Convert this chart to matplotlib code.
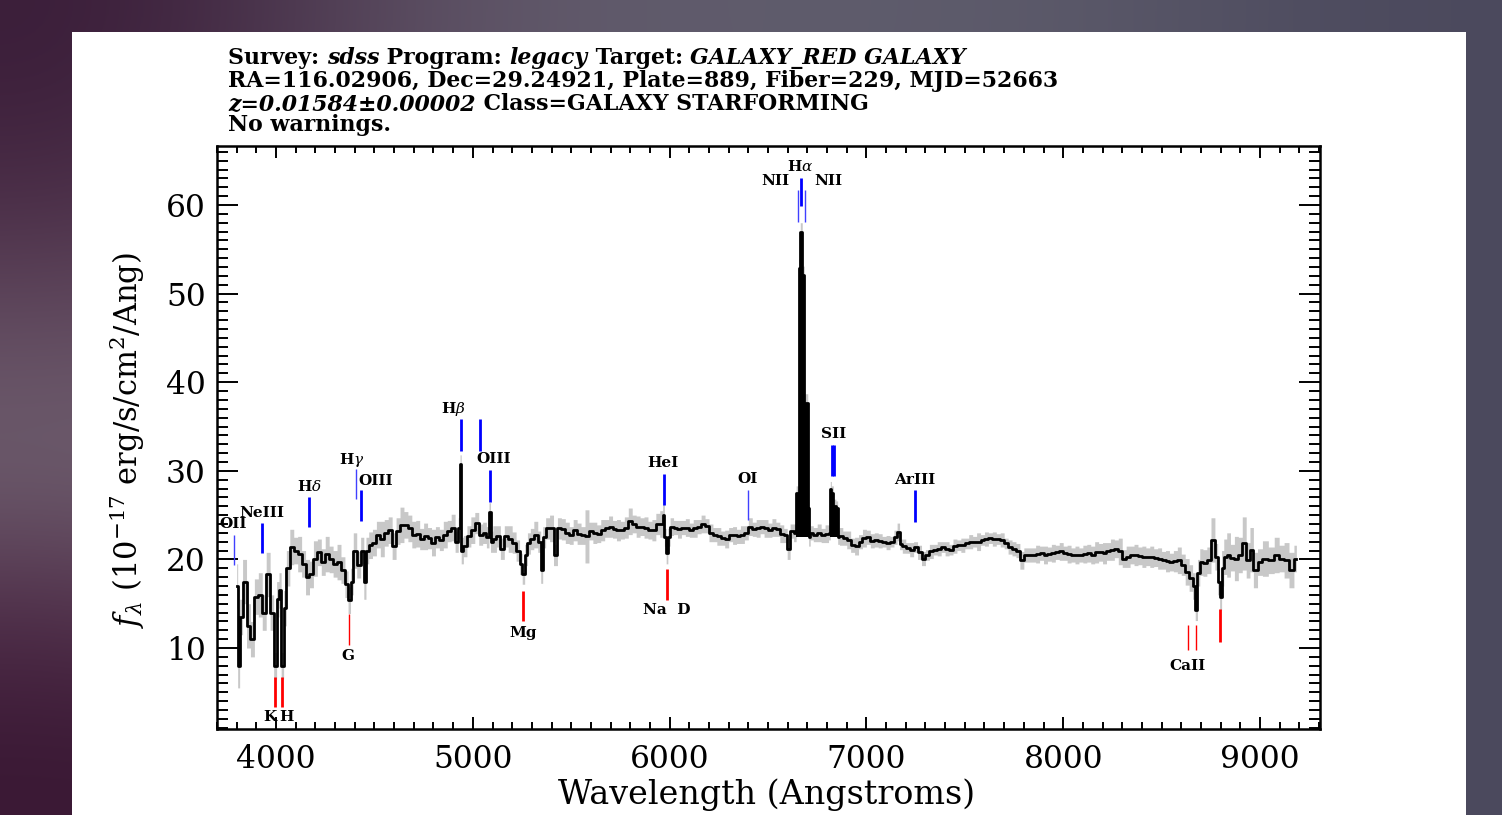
#sdss spectrum plot, rebuilt with matplotlib
import matplotlib
matplotlib.use('Agg')
import matplotlib.pyplot as plt
import numpy as np
from matplotlib.patches import Rectangle
from matplotlib.ticker import MultipleLocator

z = 0.01584

wave = [3800, 3810, 3820, 3840, 3860, 3880, 3900, 3920, 3940, 3960,
        3980, 3996, 4010, 4020, 4032, 4045, 4060, 4080, 4100, 4120,
        4140, 4160, 4180, 4200, 4220, 4240, 4260, 4280, 4300, 4320,
        4340, 4360, 4372, 4385, 4400, 4420, 4440, 4452, 4462, 4480,
        4500, 4520, 4540, 4560, 4580, 4600, 4620, 4640, 4660, 4680,
        4700, 4720, 4740, 4760, 4780, 4800, 4820, 4840, 4860, 4880,
        4900, 4920, 4932, 4938, 4944, 4960, 4980, 5000, 5020, 5040,
        5060, 5078, 5086, 5094, 5110, 5130, 5150, 5170, 5190, 5210,
        5230, 5245, 5257, 5270, 5285, 5300, 5320, 5340, 5350, 5360,
        5380, 5400, 5420, 5440, 5460, 5480, 5500, 5520, 5540, 5560,
        5580, 5600, 5620, 5640, 5660, 5680, 5700, 5720, 5740, 5760,
        5780, 5800, 5820, 5840, 5860, 5880, 5900, 5920, 5940, 5960,
        5969, 5978, 5987, 5995, 6010, 6030, 6050, 6070, 6090, 6110,
        6130, 6150, 6170, 6190, 6210, 6230, 6250, 6270, 6290, 6310,
        6330, 6350, 6370, 6390, 6410, 6430, 6450, 6470, 6490, 6510,
        6530, 6550, 6570, 6590, 6605, 6620, 6640, 6646, 6653, 6657,
        6662, 6666, 6672, 6676, 6682, 6686, 6700, 6704, 6709, 6720,
        6740, 6760, 6780, 6800, 6815, 6818, 6826, 6838, 6852, 6856,
        6870, 6890, 6910, 6930, 6950, 6970, 6990, 7010, 7030, 7050,
        7070, 7090, 7110, 7130, 7150, 7162, 7175, 7190, 7210, 7230,
        7250, 7270, 7290, 7310, 7330, 7350, 7370, 7390, 7410, 7430,
        7450, 7470, 7490, 7510, 7530, 7550, 7570, 7590, 7610, 7630,
        7650, 7670, 7690, 7710, 7730, 7750, 7770, 7790, 7810, 7830,
        7850, 7870, 7890, 7910, 7930, 7950, 7970, 7990, 8010, 8030,
        8050, 8070, 8090, 8110, 8130, 8150, 8170, 8190, 8210, 8230,
        8250, 8270, 8290, 8310, 8330, 8350, 8370, 8390, 8410, 8430,
        8450, 8470, 8490, 8510, 8530, 8550, 8570, 8590, 8610, 8630,
        8650, 8665, 8677, 8688, 8700, 8720, 8740, 8762, 8780, 8790,
        8800, 8810, 8822, 8840, 8860, 8880, 8900, 8920, 8940, 8958,
        8975, 9000, 9025, 9060, 9085, 9110, 9135, 9160, 9185]

flux = [17.0, 8.0, 13.5, 17.5, 12.5, 11.0, 15.8, 16.0, 14.0, 18.3,
        14.0, 8.0, 15.5, 16.5, 8.0, 14.5, 19.0, 21.4, 21.0, 20.6,
        19.5, 18.0, 18.3, 20.1, 20.8, 19.7, 20.6, 20.0, 19.5, 19.7,
        18.8, 17.2, 15.4, 17.5, 21.0, 19.4, 21.0, 17.5, 21.0, 21.6,
        21.9, 22.8, 22.3, 23.0, 23.3, 21.5, 23.2, 23.9, 23.9, 23.5,
        22.8, 22.9, 22.3, 22.6, 22.4, 21.9, 22.5, 22.2, 22.8, 23.2,
        23.6, 22.0, 23.5, 30.8, 21.0, 21.5, 22.6, 23.3, 24.1, 22.8,
        23.0, 22.5, 25.4, 22.0, 22.3, 22.6, 21.2, 22.6, 22.3, 21.9,
        21.0, 19.5, 18.4, 20.5, 21.8, 22.3, 22.8, 22.0, 18.8, 22.5,
        23.5, 23.5, 20.5, 23.5, 23.4, 23.0, 22.7, 23.3, 22.9, 22.7,
        22.6, 23.2, 23.0, 22.9, 23.3, 23.5, 23.7, 23.4, 23.3, 23.3,
        23.6, 24.3, 24.0, 23.7, 23.7, 23.6, 23.3, 23.3, 24.0, 24.0,
        25.0, 22.5, 20.7, 22.5, 23.7, 23.6, 23.4, 23.6, 23.6, 23.3,
        23.5, 23.7, 24.0, 23.8, 23.0, 22.8, 22.6, 22.4, 22.3, 22.8,
        22.7, 22.6, 22.8, 23.0, 23.7, 23.4, 23.5, 23.7, 23.5, 23.3,
        23.6, 23.4, 22.9, 22.7, 21.2, 23.2, 23.0, 27.5, 27.5, 52.9,
        52.9, 57.0, 57.0, 52.1, 52.1, 37.7, 37.7, 25.8, 22.5, 23.0,
        22.8, 23.0, 22.7, 22.9, 23.0, 28.0, 27.5, 26.0, 25.8, 22.5,
        22.6, 22.4, 22.2, 21.6, 21.5, 22.0, 22.4, 22.5, 22.1, 22.2,
        22.1, 22.0, 21.9, 22.0, 22.5, 23.1, 21.7, 21.5, 21.3, 21.1,
        21.4, 20.8, 20.1, 20.5, 20.9, 21.1, 21.2, 21.4, 21.2, 21.1,
        21.5, 21.6, 21.6, 21.8, 22.0, 22.0, 22.0, 22.2, 22.3, 22.4,
        22.3, 22.3, 22.2, 21.8, 21.4, 21.2, 21.0, 19.9, 20.5, 20.5,
        20.5, 20.6, 20.7, 20.5, 20.6, 20.7, 20.8, 20.9, 20.7, 20.6,
        20.5, 20.5, 20.5, 20.6, 20.7, 20.5, 20.8, 20.8, 20.7, 20.9,
        21.1, 21.2, 20.9, 20.1, 20.3, 20.5, 20.5, 20.4, 20.3, 20.3,
        20.3, 20.2, 20.1, 19.9, 19.8, 19.7, 19.8, 19.9, 19.4, 18.6,
        17.9, 17.0, 14.3, 18.5, 19.7, 19.6, 19.9, 22.2, 20.3, 17.5,
        15.8, 19.0, 20.3, 20.5, 20.2, 20.1, 20.5, 21.8, 19.9, 21.1,
        18.8, 19.7, 20.1, 19.9, 20.5, 20.1, 19.9, 18.8, 20.1]

err = [2.5, 2.5, 2.0, 2.5, 2.5, 2.0, 2.0, 2.5, 2.0, 2.5,
       2.0, 1.5, 2.0, 2.0, 1.5, 2.0, 2.0, 2.0, 1.5, 2.0,
       1.5, 2.0, 1.5, 2.0, 1.5, 1.5, 2.0, 1.5, 1.5, 2.0,
       1.5, 1.5, 1.5, 1.5, 2.0, 1.5, 1.5, 2.0, 1.5, 1.5,
       1.5, 1.5, 2.0, 1.5, 1.5, 1.5, 1.5, 2.0, 1.5, 1.5,
       1.5, 1.5, 1.2, 1.5, 1.2, 1.5, 1.2, 1.2, 1.5, 1.2,
       1.5, 1.2, 1.2, 1.0, 1.5, 1.2, 1.2, 1.5, 1.2, 1.2,
       1.2, 1.2, 1.0, 1.2, 1.5, 1.2, 1.2, 1.2, 1.5, 1.2,
       1.2, 1.2, 1.2, 1.2, 1.2, 1.2, 1.5, 1.2, 1.5, 1.2,
       1.2, 1.5, 1.2, 1.2, 1.2, 1.2, 1.0, 1.2, 1.2, 1.0,
       3.0, 1.0, 1.2, 1.0, 1.2, 1.0, 1.2, 1.0, 1.2, 1.0,
       1.2, 1.5, 1.0, 1.2, 1.0, 1.2, 1.0, 1.2, 1.2, 1.5,
       1.2, 1.0, 1.2, 1.0, 1.0, 0.8, 1.0, 0.8, 1.0, 0.8,
       1.0, 0.8, 1.0, 0.8, 1.0, 0.8, 1.0, 0.8, 1.0, 0.8,
       1.0, 0.8, 1.0, 0.8, 1.0, 0.8, 1.0, 0.8, 1.0, 0.8,
       1.0, 0.8, 1.0, 0.8, 1.2, 0.8, 1.0, 0.8, 0.8, 1.0,
       1.0, 1.0, 1.0, 1.0, 1.0, 1.0, 1.0, 0.8, 1.0, 0.8,
       0.8, 1.0, 0.8, 1.0, 0.8, 0.8, 0.8, 0.8, 0.8, 0.8,
       1.0, 0.8, 1.0, 0.8, 1.0, 0.8, 1.0, 0.8, 0.8, 0.8,
       0.8, 0.6, 0.8, 0.6, 0.8, 1.0, 0.6, 0.8, 0.6, 0.8,
       0.6, 0.8, 0.8, 0.6, 0.8, 0.6, 0.8, 0.6, 0.8, 0.6,
       0.8, 0.6, 0.8, 0.6, 0.8, 0.6, 1.0, 0.6, 0.8, 0.6,
       0.8, 0.6, 0.8, 0.6, 0.8, 0.8, 0.8, 1.0, 0.8, 0.8,
       0.8, 1.0, 0.8, 1.0, 0.8, 1.0, 0.8, 1.0, 0.8, 1.0,
       0.8, 1.0, 0.8, 1.0, 1.0, 1.0, 1.2, 1.0, 1.2, 1.0,
       1.2, 1.0, 1.5, 1.0, 1.2, 1.0, 1.2, 1.0, 1.2, 1.0,
       1.2, 1.0, 1.2, 1.0, 1.2, 1.0, 1.2, 1.5, 1.2, 1.5,
       1.5, 1.5, 1.2, 1.5, 1.5, 1.5, 1.5, 2.5, 1.5, 1.5,
       1.5, 2.0, 2.0, 2.5, 1.5, 2.5, 2.0, 3.0, 2.0, 2.5,
       2.0, 1.5, 2.0, 1.5, 2.0, 1.5, 2.0, 2.0, 1.5]

# emission lines (blue markers), rest wavelengths
em_names = ['OII', 'NeIII', r'H$\delta$', r'H$\gamma$', 'OIII', r'H$\beta$', '', 'OIII',
            'HeI', 'OI', 'NII', r'H$\alpha$', 'NII', 'SII', '', 'ArIII']
em_rest = [3727, 3869, 4102, 4340, 4363, 4861, 4959, 5007,
           5876, 6300, 6548, 6563, 6584, 6717, 6731, 7136]
em_lo = [19.4, 20.7, 23.7, 26.8, 24.3, 32.2, 32.2, 26.5,
         26.1, 24.4, 58.1, 59.9, 58.1, 29.4, 29.4, 24.2]
em_hi = [22.8, 24.1, 27.0, 30.2, 27.8, 35.8, 35.8, 30.1,
         29.6, 27.8, 61.7, 63.1, 61.7, 32.9, 32.9, 27.8]
em_thick = [0, 1, 1, 0, 1, 1, 1, 1, 1, 0, 0, 1, 0, 1, 1, 1]

# absorption lines (red markers)
ab_names = ['K', 'H', 'G', 'Mg', 'Na  D', 'CaII', '', '']
ab_rest = [3934, 3969, 4304, 5175, 5894, 8498, 8542, 8662]
ab_lo = [3.3, 3.3, 10.3, 13.0, 15.4, 9.8, 9.8, 10.7]
ab_hi = [6.7, 6.7, 13.8, 16.4, 18.9, 12.6, 12.6, 14.4]
ab_thick = [1, 1, 0, 1, 1, 0, 0, 1]

# label spots (wavelength, flux) for the line names
em_lab = [(3781, 24.0), (3929, 25.2), (4168, 28.2), (4386, 31.2), (4508, 28.8), (4899, 37.0), None,
          (5108, 31.3), (5966, 30.9), (6398, 29.1), (6535, 62.7), (6662, 64.4), (6805, 62.7),
          (6835, 34.1), None, (7247, 29.0)]
ab_lab = [(3968, 2.2), (4055, 2.2), (4366, 9.1), (5255, 11.7), (5987, 14.3), (8634, 8.0), None, None]

plt.rcParams['font.family'] = 'DejaVu Serif'
plt.rcParams['mathtext.fontset'] = 'dejavuserif'

W, H = 1502, 815
fig = plt.figure(figsize=(W / 100, H / 100), dpi=100)

# blurred photo behind the white sheet
bg = fig.add_axes([0, 0, 1, 1], zorder=-10)
cols = [['#3a1c38', '#62586a', '#5f5c6c', '#5d5b6b', '#4b495d'],
        ['#4a2c46', '#665a6c', '#5d5a6a', '#5c5a6a', '#4b495d'],
        ['#644e62', '#6c6070', '#5c5a6a', '#5c5a6a', '#4b495d'],
        ['#6e5e6e', '#746876', '#5c5a6a', '#5c5a6a', '#4b495d'],
        ['#4e2c48', '#7a6670', '#5c5a6a', '#5c5a6a', '#4b495d'],
        ['#3a1834', '#3e1c38', '#5c5a6a', '#5c5a6a', '#4b495d']]
img = np.array([[matplotlib.colors.to_rgb(c) for c in row] for row in cols])
bg.imshow(img, aspect='auto', interpolation='bicubic', extent=[0, 1, 0, 1])
bg.set_xlim(0, 1)
bg.set_ylim(0, 1)
bg.axis('off')
fig.add_artist(Rectangle((72 / W, 0), (1466 - 72) / W, 1 - 32 / H, transform=fig.transFigure,
                         facecolor='white', edgecolor='none', zorder=-5))

ax = fig.add_axes([217 / W, 1 - 729 / H, (1320 - 217) / W, (729 - 146) / H])

w = np.array(wave)
f = np.array(flux)
e = np.array(err)
assert len(w) == len(f) == len(e)

ax.fill_between(w, f - e, f + e, step='mid', color='#c8c8c8', lw=0, zorder=1)
ax.plot(w, f, color='k', lw=2.0, drawstyle='steps-mid', zorder=3)
for lo, hi in [(6640, 6712), (6812, 6860)]:
    m = (w >= lo) & (w <= hi)
    ax.fill_between(w[m], 22.5, f[m], step='mid', color='k', lw=0, zorder=3)

for i in range(len(em_rest)):
    x = em_rest[i] * (1 + z)
    ax.vlines(x, em_lo[i], em_hi[i], colors='#0000ff' if em_thick[i] else '#4040ff',
              lw=2.0 if em_thick[i] else 1.0, zorder=4)
    if em_lab[i] is not None:
        ax.text(em_lab[i][0], em_lab[i][1], em_names[i], ha='center', va='center',
                fontsize=11, fontweight='bold', zorder=5)

for i in range(len(ab_rest)):
    x = ab_rest[i] * (1 + z)
    ax.vlines(x, ab_lo[i], ab_hi[i], colors='#ff0000', lw=2.0 if ab_thick[i] else 1.0, zorder=4)
    if ab_lab[i] is not None:
        ax.text(ab_lab[i][0], ab_lab[i][1], ab_names[i], ha='center', va='center',
                fontsize=11, fontweight='bold', zorder=5)

ax.set_xlim(3700, 9305)
ax.set_ylim(0.86, 66.66)
ax.xaxis.set_major_locator(MultipleLocator(1000))
ax.xaxis.set_minor_locator(MultipleLocator(100))
ax.yaxis.set_major_locator(MultipleLocator(10))
ax.yaxis.set_minor_locator(MultipleLocator(1))
ax.tick_params(which='both', direction='in', top=True, right=True, width=1.4, labelsize=22.5)
ax.tick_params(axis='x', which='major', length=8.6, pad=11)
ax.tick_params(axis='x', which='minor', length=4.7)
ax.tick_params(axis='y', which='major', length=15, pad=8)
ax.tick_params(axis='y', which='minor', length=8)
for s in ax.spines.values():
    s.set_linewidth(1.8)

fig.text(767 / W, 1 - 795 / H, 'Wavelength (Angstroms)', ha='center', va='center', fontsize=24)
fig.text(127 / W, 1 - 440 / H, r'$f_\lambda$ (10$^{-17}$ erg/s/cm$^2$/Ang)',
         ha='center', va='center', rotation=90, fontsize=22)

# header, pieces put one after another so italics can be mixed in
r = fig.canvas.get_renderer()
def header_line(y, pieces):
    x = 228 / W
    for txt, st in pieces:
        t = fig.text(x, 1 - y / H, txt, fontsize=15.8, style=st, fontweight='bold',
                     ha='left', va='baseline')
        x = t.get_window_extent(renderer=r).x1 / fig.bbox.width

header_line(64, [('Survey: ', 'normal'), ('sdss', 'italic'), (' Program: ', 'normal'),
                 ('legacy', 'italic'), (' Target: ', 'normal'), ('GALAXY_RED GALAXY', 'italic')])
header_line(87, [('RA=116.02906, Dec=29.24921, Plate=889, Fiber=229, MJD=52663', 'normal')])
header_line(110, [('z=0.01584\u00b10.00002', 'italic'), (' Class=GALAXY STARFORMING', 'normal')])
header_line(131, [('No warnings.', 'normal')])

plt.savefig('out.png', dpi=100)
